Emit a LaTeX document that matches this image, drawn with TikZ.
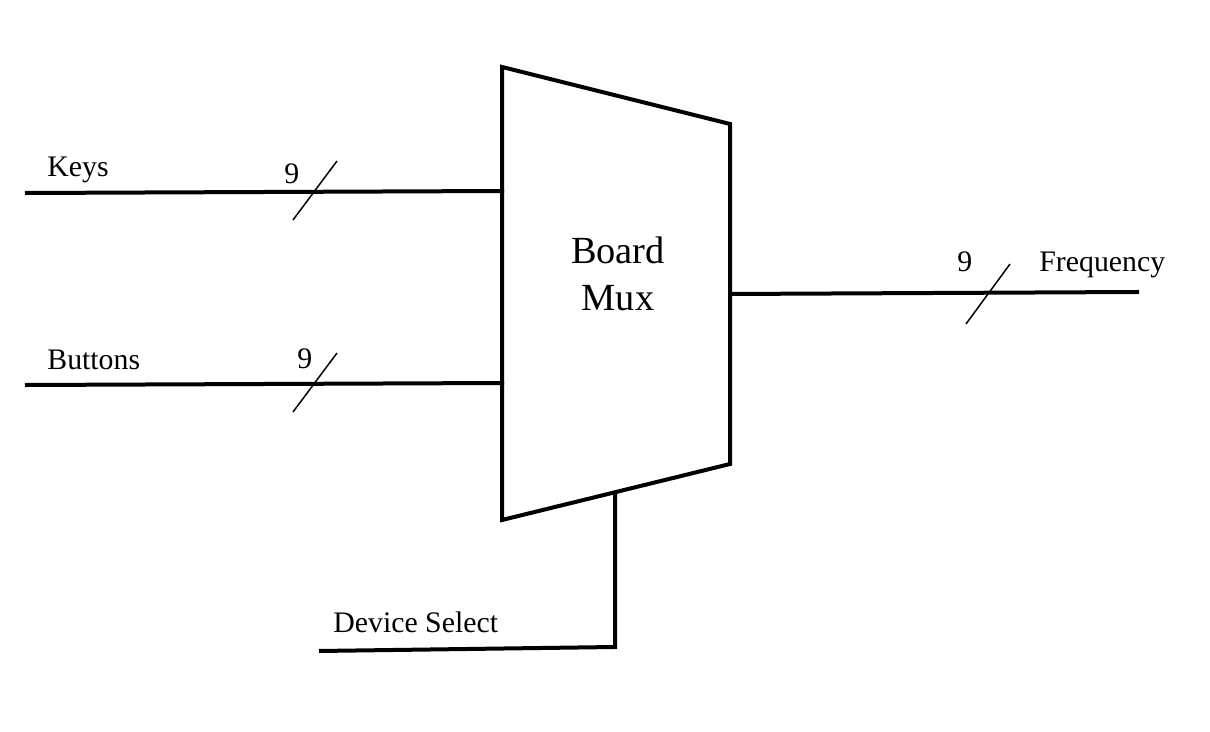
\documentclass[tikz,border=0pt]{standalone}
\usepackage{fontspec}
\setmainfont{Liberation Serif}
\begin{document}
\begin{tikzpicture}[x=0.5pt,y=-0.5pt,
  wire/.style={line width=2pt, line cap=rect},
  bus/.style={line width=0.75pt},
  lbl/.style={anchor=base west, inner sep=0pt, font=\fontsize{14.9pt}{17pt}\selectfont},
  title/.style={align=center, inner sep=0pt, font=\fontsize{19.2pt}{23.5pt}\selectfont}]
\useasboundingbox (0,0) rectangle (1210,732);
% mux corners
\coordinate (tl) at (502,67);
\coordinate (tr) at (730,124);
\coordinate (br) at (730,464);
\coordinate (bl) at (502,520);
\draw[line width=2pt, line join=miter] (tl) -- (tr) -- (br) -- (bl) -- cycle;
\node[title] (mux) at (618,274) {Board\\Mux};
% ports
\coordinate (kin) at (27,193);
\coordinate (kport) at (502,191);
\coordinate (bin) at (27,385);
\coordinate (bport) at (502,383);
\coordinate (oport) at (730,294);
\coordinate (oout) at (1137,292);
\coordinate (sport) at (615,493);
\coordinate (scorner) at (615,647);
\coordinate (send) at (319,651);
\draw[wire] (kin) -- (kport);
\draw[wire] (bin) -- (bport);
\draw[wire] (oport) -- (oout);
\draw[wire, line cap=butt] (sport) -- (scorner) -- (send);
% bus slashes
\coordinate (k1) at (293,220); \coordinate (k2) at (337,161);
\coordinate (b1) at (293,412); \coordinate (b2) at (337,353);
\coordinate (o1) at (966,324); \coordinate (o2) at (1010,264);
\draw[bus] (k1) -- (k2);
\draw[bus] (b1) -- (b2);
\draw[bus] (o1) -- (o2);
% labels
\node[lbl] (keys) at (47,177) {Keys};
\node[lbl] (kn) at (284,184) {9};
\node[lbl] (buttons) at (47,370) {Buttons};
\node[lbl] (bn) at (297,369) {9};
\node[lbl] (on) at (957,272) {9};
\node[lbl] (freq) at (1039,272) {Frequency};
\node[lbl] (dsel) at (333,632) {Device Select};
\end{tikzpicture}
\end{document}
